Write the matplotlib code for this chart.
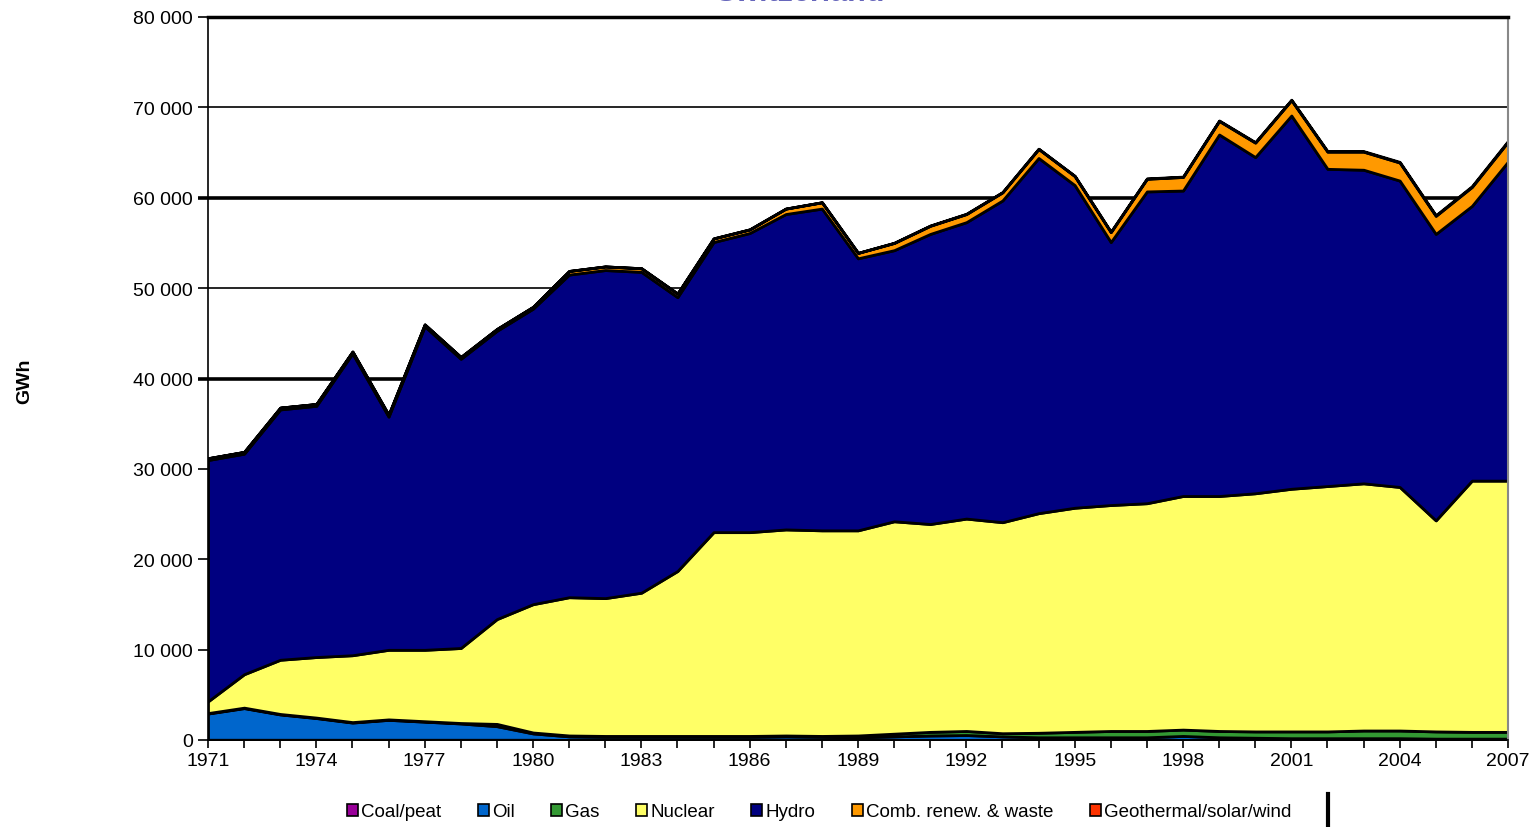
import matplotlib
matplotlib.use("Agg")
import matplotlib.pyplot as plt
from matplotlib.ticker import FuncFormatter, MultipleLocator
from matplotlib.patches import Patch
from matplotlib.lines import Line2D

plt.rcParams["font.family"] = ["Liberation Sans", "DejaVu Sans"]

years = list(range(1971, 2008))

coal = [30] * 10 + [0] * 27
oil = [2900, 3500, 2800, 2400, 1900, 2200, 2000, 1800, 1500, 700,
       400, 350, 350, 350, 350, 350, 400, 350, 300, 400,
       500, 550, 400, 300, 300, 300, 300, 450, 300, 250,
       200, 200, 200, 200, 150, 150, 150]
gas = [50] * 8 + [250, 100] + [100] * 8 + [200, 300,
       400, 450, 350, 500, 600, 700, 700, 700, 700, 700,
       750, 750, 850, 850, 800, 750, 750]
nuclear = [1300, 3700, 6000, 6700, 7400, 7700, 7900, 8300, 11600, 14200,
           15300, 15250, 15850, 18250, 22550, 22550, 22800, 22750, 22700, 23500,
           23000, 23500, 23350, 24300, 24800, 25000, 25200, 25850, 26000, 26350,
           26850, 27150, 27350, 26950, 23350, 27800, 27800]
hydro = [26700, 24400, 27700, 27800, 33400, 25800, 35800, 32000, 31900, 32700,
         35700, 36300, 35500, 30300, 32100, 33100, 34900, 35600, 30100, 30000,
         32100, 32800, 35600, 39300, 35700, 29100, 34500, 33800, 40000, 37200,
         41300, 35100, 34700, 33900, 31700, 30400, 35300]
comb_renew = [200] * 10 + [400] * 6 + [600, 700, 600, 800,
              900, 900, 900, 1000, 1000, 1100, 1400, 1500, 1500, 1600,
              1700, 1900, 2000, 2000, 2000, 2100, 2200]
geo = [0] * 19 + [20, 30, 30, 30, 30, 30, 40, 40, 40, 50, 50,
       50, 60, 60, 70, 70, 80, 90]

labels = ["Coal/peat", "Oil", "Gas", "Nuclear", "Hydro",
          "Comb. renew. & waste", "Geothermal/solar/wind"]
colors = ["#990099", "#0066CC", "#339933", "#FFFF66", "#000080",
          "#FF9900", "#FF3300"]

fig = plt.figure(figsize=(15.35, 8.28), dpi=100)
ax = fig.add_axes([208 / 1535, 87 / 828, 1300 / 1535, 723 / 828])

ax.stackplot(years, coal, oil, gas, nuclear, hydro, comb_renew, geo,
             colors=colors, edgecolor="black", linewidth=2, zorder=2)

ax.set_xlim(1971, 2007)
ax.set_ylim(0, 80000)
ax.yaxis.set_major_locator(MultipleLocator(10000))
ax.yaxis.set_major_formatter(FuncFormatter(lambda v, p: f"{int(v):,}".replace(",", " ")))
ax.xaxis.set_major_locator(MultipleLocator(3))
ax.xaxis.set_minor_locator(MultipleLocator(1))
ax.grid(axis="y", color="black", linewidth=1.2, zorder=1)
ax.set_axisbelow(True)

ax.tick_params(axis="both", which="both", direction="out", labelsize=14,
               colors="black", width=1.2)
ax.tick_params(axis="y", length=7, pad=4)
ax.tick_params(axis="x", which="major", length=6, pad=3)
ax.tick_params(axis="x", which="minor", length=6)

# the 40 000 and 60 000 lines come out heavier in the original
fig.canvas.draw()
for gl, tk, v in zip(ax.get_ygridlines(), ax.yaxis.get_major_ticks(), ax.get_yticks()):
    if v in (40000, 60000):
        gl.set_linewidth(2.6)
        tk.tick1line.set_markeredgewidth(2.6)

for side in ["left", "bottom"]:
    ax.spines[side].set_color("black")
    ax.spines[side].set_linewidth(1.2)
ax.spines["top"].set_color("black")
ax.spines["top"].set_linewidth(2.5)
ax.spines["right"].set_color("#888888")
ax.spines["right"].set_linewidth(1.5)

fig.text(25 / 1535, 1 - 381 / 828, "GWh", rotation=90, fontsize=14,
         fontweight="bold", ha="center", va="center")

fig.text(800 / 1535, 1 - 1 / 828, "Switzerland", fontsize=22, fontweight="bold",
         color="#6666BB", ha="center", va="baseline")

handles = [Patch(facecolor=c, edgecolor="black", linewidth=1.2) for c in colors]
fig.legend(handles, labels, loc="center", bbox_to_anchor=(819 / 1535, 1 - 813 / 828),
           ncol=7, frameon=False, fontsize=13.5, handlelength=0.6, handleheight=0.6,
           handletextpad=0.15, columnspacing=1.95)

fig.add_artist(Line2D([1328 / 1535, 1328 / 1535], [0, 33 / 828], color="black",
                      linewidth=3, transform=fig.transFigure))

fig.savefig("out.png", dpi=100)
